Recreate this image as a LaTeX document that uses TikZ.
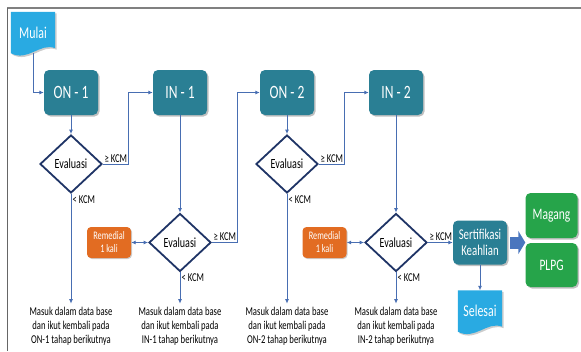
\documentclass[tikz,border=0pt]{standalone}
\usepackage{fontspec}
\setmainfont[FakeStretch=0.72]{Carlito}
\usepackage{tikz}
\usetikzlibrary{shapes.geometric}
\usetikzlibrary{arrows.meta}
\usetikzlibrary{shadows}
\usetikzlibrary{backgrounds}
\usetikzlibrary{calc}

\definecolor{tealbox}{RGB}{42,127,148}
\definecolor{cyanbox}{RGB}{41,170,226}
\definecolor{orangebox}{RGB}{226,108,34}
\definecolor{greenbox}{RGB}{38,164,74}
\definecolor{linkblue}{RGB}{72,110,178}
\definecolor{navy}{RGB}{31,52,102}
\definecolor{arrowblue}{RGB}{74,118,190}

\tikzset{
  stage/.style={rectangle, rounded corners=5pt, fill=tealbox, text=white,
    minimum width=54pt, minimum height=45pt, inner sep=0pt,
    drop shadow={shadow xshift=1.5pt, shadow yshift=-1.5pt, opacity=0.5},
    font=\fontsize{18.8}{22}\selectfont},
  evalbox/.style={diamond, draw=navy, line width=1.8pt, fill=white,
    minimum width=62pt, minimum height=58pt, inner sep=0pt,
    font=\fontsize{14}{16}\selectfont},
  remedial/.style={rectangle, rounded corners=4pt, fill=orangebox, text=white,
    minimum width=44pt, minimum height=31pt, inner sep=0pt, align=center,
    drop shadow={shadow xshift=1pt, shadow yshift=-1pt, opacity=0.4},
    font=\fontsize{11.5}{13}\selectfont},
  result/.style={rectangle, rounded corners=5pt, fill=greenbox, text=white,
    minimum width=52pt, minimum height=45pt, inner sep=0pt,
    drop shadow={shadow xshift=1.5pt, shadow yshift=-1.5pt, opacity=0.5},
    font=\fontsize{16}{19}\selectfont},
  docnode/.style={rectangle, text=white, inner sep=0pt,
    minimum width=44pt, minimum height=41pt,
    font=\fontsize{16.5}{19}\selectfont},
  kcm/.style={inner sep=1.5pt, font=\fontsize{12}{14}\selectfont},
  note/.style={align=center, inner sep=3pt, font=\fontsize{12}{14}\selectfont},
  link/.style={draw=linkblue, line width=0.9pt, -{Latex[length=4.5pt,width=4pt]}},
}

\begin{document}
\begin{tikzpicture}[x=1pt, y=-1pt]

        \useasboundingbox (0,0) rectangle (581,351);

        % Frame lines
        \draw[gray, line width=1.8pt] (7,8) -- (581,8);
        \draw[gray!80!black, line width=1pt] (7,8) -- (7,351);

        % Start and end documents
        \node[docnode] (mulai) at (33,32.5) {Mulai};
        \node[docnode] (sel) at (480,311) {Selesai};

        % Stages, evaluations and notes below
        \foreach \i/\x/\ey/\lab/\k in {1/71/164/ON/1, 2/180/242.5/IN/1, 3/287/164/ON/2, 4/396/242.5/IN/2} {
          \node[stage] (b\i) at (\x, 92.5) {\lab\ -\ \k};
          \node[evalbox] (e\i) at (\x, \ey) {Evaluasi};
          \node[note] (t\i) at (\x, 326) {Masuk dalam data base\\dan ikut kembali pada\\\lab-\k\ tahap berikutnya};

          \node[kcm, above right] (ge\i) at (e\i.east) {≥ KCM};
          \node[kcm, below right] (lt\i) at (e\i.south) {< KCM};

          \draw[link] (b\i.south) -- (e\i.north);
          \draw[link] (e\i.south) -- (t\i.north);
        }

        % Remedial boxes
        \node[remedial] (rem1) at (109, 242.5) {Remedial\\1 kali};
        \node[remedial] (rem2) at (324.5, 242.5) {Remedial\\1 kali};

        % Certification and what follows
        \node[stage, font=\fontsize{15}{16}\selectfont, align=center, minimum height=44pt] (sert) at (480, 242.5) {Sertifikasi\\Keahlian};
        \node[result] (magang) at (551.5, 215.5) {Magang};
        \node[result, minimum height=44pt] (plpg) at (551.5, 265) {PLPG};

        % Document shapes behind the texts
        \begin{scope}[on background layer]
          \fill[cyanbox, drop shadow={shadow xshift=1.5pt, shadow yshift=-1.5pt, opacity=0.4}]
            (mulai.north west) -- (mulai.north east) -- ($(mulai.south east)+(0,-5)$)
            .. controls ($(mulai.south)+(7,-11)$) and ($(mulai.south)+(-5,9)$) .. (mulai.south west) -- cycle;
          \fill[cyanbox, drop shadow={shadow xshift=1.5pt, shadow yshift=-1.5pt, opacity=0.4}]
            (sel.north west) -- (sel.north east) -- ($(sel.south east)+(0,-5)$)
            .. controls ($(sel.south)+(7,-11)$) and ($(sel.south)+(-5,9)$) .. (sel.south west) -- cycle;
        \end{scope}

        % Connectors
        \draw[link] (mulai.south) |- (b1.west);
        \foreach \i/\j in {1/2, 2/3, 3/4} {
          \draw[link] (e\i.east) -- ++(26,0) |- (b\j.west);
        }
        \draw[link, {Latex[length=4.5pt,width=4pt]}-{Latex[length=4.5pt,width=4pt]}] (rem1.east) -- (e2.west);
        \draw[link, {Latex[length=4.5pt,width=4pt]}-{Latex[length=4.5pt,width=4pt]}] (rem2.east) -- (e4.west);
        \draw[link] (e4.east) -- (sert.west);
        \draw[link] (sert.south) -- (sel.north);

        % Big arrow towards Magang and PLPG
        \draw[arrowblue, line width=12pt, -{Triangle[length=7pt,width=23pt]}] ([xshift=3pt]sert.east) -- (sert.east -| magang.west);

      \end{tikzpicture}
\end{document}
